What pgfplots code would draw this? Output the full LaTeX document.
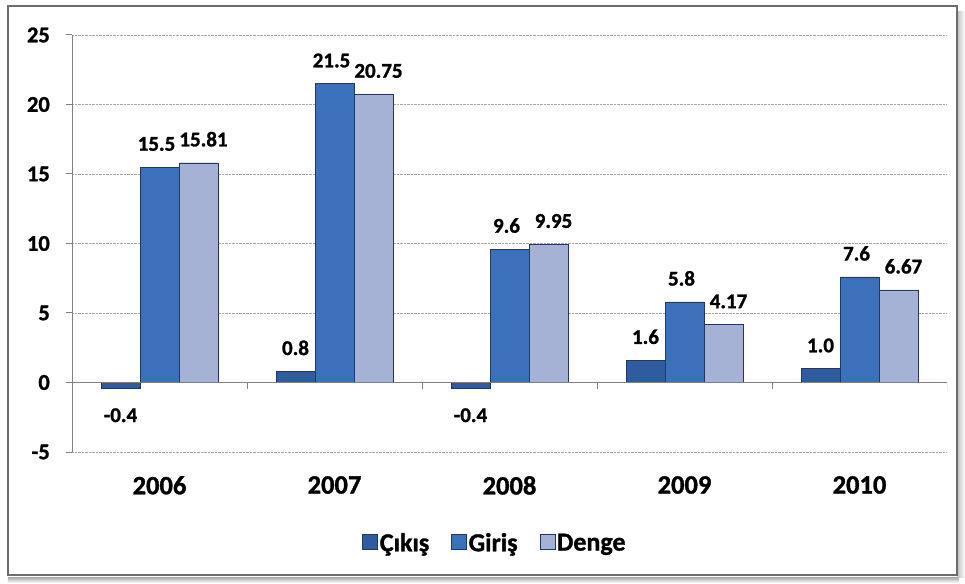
\documentclass[border=0pt]{standalone}
\usepackage{pgfplots}
\pgfplotsset{compat=1.18}
\usepackage{fontspec}
\setmainfont{Carlito}[BoldFeatures={FakeBold=1.2}]
\definecolor{cik}{HTML}{2F5C9F}
\definecolor{gir}{HTML}{3B71BA}
\definecolor{den}{HTML}{A5B2D6}
\definecolor{edge}{HTML}{1F3864}
\begin{document}
\begin{tikzpicture}[x=1pt,y=1pt]
\useasboundingbox (-72,-131) rectangle (893,452);
% frame and shadow
\shade[top color=gray!70, bottom color=white] (-64,-125) rectangle (887,-131);
\shade[left color=gray!50, right color=white] (885,-125) rectangle (893,440);
\draw[gray!85!black, line width=2pt, fill=white] (-64,-123) rectangle (885,446);
\begin{axis}[
  at={(0,0)}, anchor=south west,
  scale only axis, width=875pt, height=417pt,
  xmin=-0.5, xmax=4.5, ymin=-5, ymax=25,
  ytick={-5,0,5,10,15,20,25},
  yticklabels={-5,0,5,10,15,20,25},
  xtick={0,1,2,3,4},
  xticklabels={2006,2007,2008,2009,2010},
  axis line style={draw=none},
  ymajorgrids, grid style={gray!70, densely dotted, line width=0.8pt},
  ytick pos=left, tick align=outside, major tick length=6pt,
  ytick style={gray, line width=1pt},
  xtick style={draw=none},
  /pgf/number format/assume math mode=true,
  yticklabel style={font=\fontsize{22.5}{24}\selectfont\bfseries, anchor=east, inner sep=0pt, xshift=-16pt},
  xticklabel style={font=\fontsize{26.5}{28}\selectfont\bfseries, anchor=north, inner sep=0pt, yshift=-18pt},
  ybar=0pt, bar width=39pt,
  point meta=explicit symbolic,
  every node near coord/.append style={font=\fontsize{21}{23}\selectfont\bfseries, black, inner sep=0pt},
  legend style={at={(0.4834,-0.218)}, anchor=center, draw=none, legend columns=3,
    font=\fontsize{26}{28}\selectfont\bfseries,
    /tikz/every even column/.append style={column sep=20pt}},
  legend image code/.code={\draw[#1] (0pt,-6pt) rectangle (15pt,9pt);},
]
\addplot[fill=cik, draw=edge, bar shift=-39pt, nodes near coords,
  every node near coord/.append style={anchor=south, yshift=16pt}]
  coordinates {(1,0.8)[0.8] (3,1.6)[1.6] (4,1.0)[1.0]};
\addlegendentry{Çıkış}
\addplot[fill=gir, draw=edge, bar shift=0pt, nodes near coords,
  every node near coord/.append style={anchor=south, yshift=16pt, xshift=-3pt}]
  coordinates {(0,15.5)[15.5] (1,21.5)[21.5] (2,9.6)[9.6] (3,5.8)[5.8] (4,7.6)[7.6]};
\addlegendentry{Giriş}
\addplot[fill=den, draw=edge, bar shift=39pt, nodes near coords,
  every node near coord/.append style={anchor=south, yshift=16pt, xshift=5pt}]
  coordinates {(0,15.81)[15.81] (1,20.75)[20.75] (2,9.95)[9.95] (3,4.17)[4.17] (4,6.67)[6.67]};
\addlegendentry{Denge}
\addplot[fill=cik, draw=edge, bar shift=-39pt, forget plot, nodes near coords,
  nodes near coords align={below},
  every node near coord/.append style={anchor=north, yshift=-20pt}]
  coordinates {(0,-0.4)[-0.4] (2,-0.4)[-0.4]};
\draw[gray, line width=1pt] (axis cs:-0.5,-5) -- (axis cs:-0.5,25);
\draw[gray, line width=1pt] (axis cs:-0.5,0) -- (axis cs:4.5,0);
\draw[gray, line width=1pt] (axis cs:0.5,0) -- ([yshift=-7pt]axis cs:0.5,0);
\draw[gray, line width=1pt] (axis cs:1.5,0) -- ([yshift=-7pt]axis cs:1.5,0);
\draw[gray, line width=1pt] (axis cs:2.5,0) -- ([yshift=-7pt]axis cs:2.5,0);
\draw[gray, line width=1pt] (axis cs:3.5,0) -- ([yshift=-7pt]axis cs:3.5,0);
\draw[gray, line width=1pt] (axis cs:4.5,0) -- ([yshift=-7pt]axis cs:4.5,0);
\end{axis}
\end{tikzpicture}
\end{document}
